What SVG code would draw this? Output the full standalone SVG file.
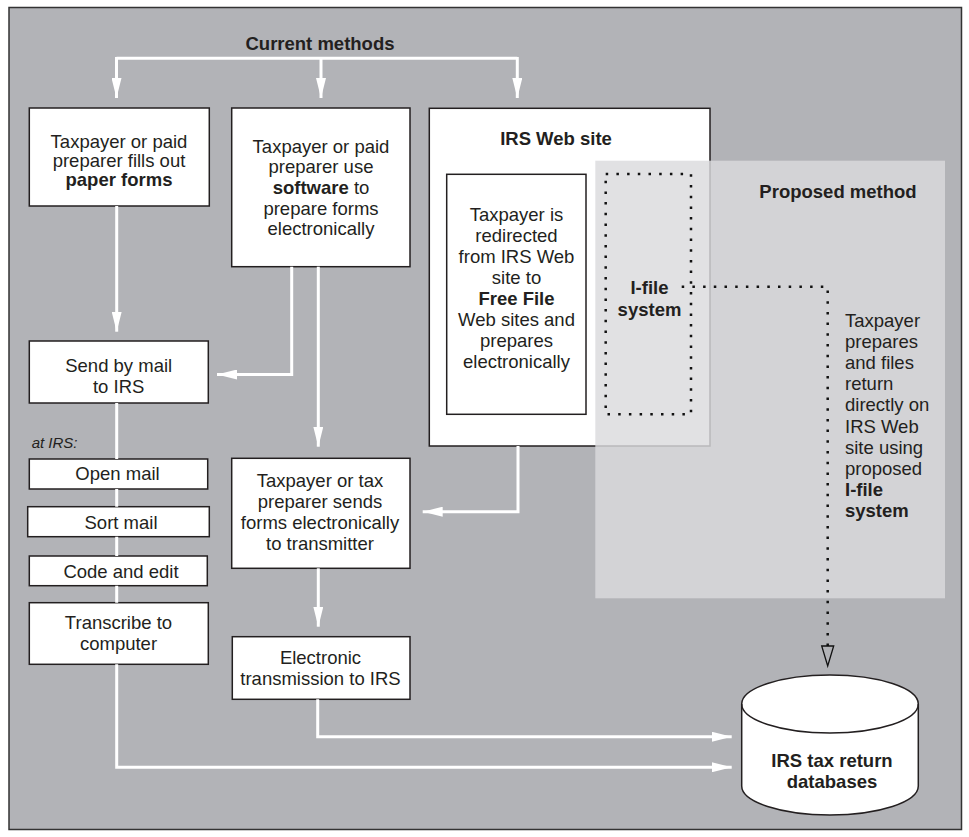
<svg xmlns="http://www.w3.org/2000/svg" width="969" height="837" viewBox="0 0 969 837">
<style>
text{font-family:"Liberation Sans",Arial,Helvetica,sans-serif;font-size:18.5px;fill:#231f20;text-anchor:middle}
.b{font-weight:bold}
.box{fill:#fff;stroke:#231f20;stroke-width:1.5}
.wl{fill:none;stroke:#fff;stroke-width:3}
.dot{fill:none;stroke:#111;stroke-width:2.5;stroke-dasharray:2.5 8.2}
</style>
<defs>
<marker id="ah" markerUnits="userSpaceOnUse" markerWidth="20" markerHeight="10" refX="20" refY="5" orient="auto" viewBox="0 0 20 10">
<path d="M0,0 L20,5 L0,10 z" fill="#fff"/>
</marker>
</defs>
<rect id="frame" x="9" y="7.5" width="952.5" height="822" fill="#b2b3b7" stroke="#333" stroke-width="1.5"/>
<text class="b" x="320" y="50">Current methods</text>

<g id="paper">
<rect class="box" x="29.3" y="108" width="180" height="98"/>
<text x="119" y="147.5">Taxpayer or paid</text>
<text x="119" y="166.5">preparer fills out</text>
<text class="b" x="119" y="185.5">paper forms</text>
</g>
<g id="software">
<rect class="box" x="231.7" y="108" width="178.3" height="158.7"/>
<text x="321" y="152.5">Taxpayer or paid</text>
<text x="321" y="173.2">preparer use</text>
<text x="321" y="193.9"><tspan class="b">software</tspan> to</text>
<text x="321" y="214.6">prepare forms</text>
<text x="321" y="235.3">electronically</text>
</g>
<g id="irsweb">
<rect class="box" x="429.3" y="108.3" width="280.7" height="337.7"/>
<text class="b" x="556" y="145">IRS Web site</text>
</g>
<g id="freefile">
<rect class="box" x="446.7" y="174.3" width="139.3" height="240"/>
<text x="516.5" y="220.7">Taxpayer is</text>
<text x="516.5" y="241.8">redirected</text>
<text x="516.5" y="262.9">from IRS Web</text>
<text x="516.5" y="284">site to</text>
<text class="b" x="516.5" y="305.1">Free File</text>
<text x="516.5" y="326.2">Web sites and</text>
<text x="516.5" y="347.3">prepares</text>
<text x="516.5" y="368.4">electronically</text>
</g>
<g id="sendmail">
<rect class="box" x="29.3" y="341" width="179" height="62"/>
<text x="118.7" y="371.7">Send by mail</text>
<text x="118.7" y="392.7">to IRS</text>
</g>
<text x="31.7" y="448.3" style="font-style:italic;font-size:15px;text-anchor:start">at IRS:</text>
<g id="openmail">
<rect class="box" x="29.3" y="459" width="178.4" height="30"/>
<text x="117.5" y="480">Open mail</text>
</g>
<g id="sortmail">
<rect class="box" x="27.7" y="506.7" width="181.6" height="30"/>
<text x="121" y="529">Sort mail</text>
</g>
<g id="codeedit">
<rect class="box" x="29.3" y="556" width="178" height="29.7"/>
<text x="121" y="577.5">Code and edit</text>
</g>
<g id="transcribe">
<rect class="box" x="29.3" y="602.7" width="179" height="61.6"/>
<text x="118.5" y="629">Transcribe to</text>
<text x="118.5" y="650">computer</text>
</g>
<g id="transmitter">
<rect class="box" x="231.7" y="458.3" width="178.3" height="110"/>
<text x="320" y="486.7">Taxpayer or tax</text>
<text x="320" y="507.8">preparer sends</text>
<text x="320" y="528.9">forms electronically</text>
<text x="320" y="550">to transmitter</text>
</g>
<g id="electronic">
<rect class="box" x="232.3" y="636.7" width="177.7" height="62.6"/>
<text x="320.5" y="664.3">Electronic</text>
<text x="320.5" y="685">transmission to IRS</text>
</g>

<g id="proposed">
<rect x="595.3" y="160.7" width="349.7" height="437.6" fill="#dadbdd" fill-opacity="0.82"/>
<text class="b" x="838" y="198.3">Proposed method</text>
<g style="text-anchor:start">
<text x="845" y="326.5" style="text-anchor:start">Taxpayer</text>
<text x="845" y="347.7" style="text-anchor:start">prepares</text>
<text x="845" y="368.9" style="text-anchor:start">and files</text>
<text x="845" y="390.1" style="text-anchor:start">return</text>
<text x="845" y="411.3" style="text-anchor:start">directly on</text>
<text x="845" y="432.5" style="text-anchor:start">IRS Web</text>
<text x="845" y="453.7" style="text-anchor:start">site using</text>
<text x="845" y="474.9" style="text-anchor:start">proposed</text>
<text class="b" x="845" y="496.1" style="text-anchor:start">I-file</text>
<text class="b" x="845" y="517.3" style="text-anchor:start">system</text>
</g>
</g>
<g id="ifile">
<rect class="dot" x="605.7" y="174" width="85.3" height="240.3"/>
<text class="b" x="649.5" y="294">I-file</text>
<text class="b" x="649.5" y="315.5">system</text>
</g>
<g id="database">
<path d="M741.7,704 L741.7,786 A88.3,29 0 0,0 918.3,786 L918.3,704 A88.3,29 0 0,0 741.7,704 Z" fill="#fff" stroke="#231f20" stroke-width="1.5"/>
<path d="M741.7,704 A88.3,29 0 0,0 918.3,704" fill="none" stroke="#231f20" stroke-width="1.5"/>
<text class="b" x="832" y="766.7">IRS tax return</text>
<text class="b" x="832" y="787.7">databases</text>
</g>

<g id="connectors">
<path class="wl" d="M116.5,58.3 H517.3"/>
<path class="wl" d="M116.5,57 V98" marker-end="url(#ah)"/>
<path class="wl" d="M321,58.3 V98" marker-end="url(#ah)"/>
<path class="wl" d="M517.3,57 V98" marker-end="url(#ah)"/>
<path class="wl" d="M116.7,206 V331.7" marker-end="url(#ah)"/>
<path class="wl" d="M291.7,266.7 V374.5 H217" marker-end="url(#ah)"/>
<path class="wl" d="M318.3,266.7 V446.7" marker-end="url(#ah)"/>
<path class="wl" d="M518,446 V511.7 H422.7" marker-end="url(#ah)"/>
<path class="wl" d="M318.3,568.3 V626.7" marker-end="url(#ah)"/>
<path class="wl" d="M317.7,699.3 V736.7 H731.7" marker-end="url(#ah)"/>
<path class="wl" d="M116.7,403 V459 M116.7,489 V506.7 M116.7,536.7 V556 M116.7,585.7 V602.7"/>
<path class="wl" d="M116.7,664.3 V767.3 H731.7" marker-end="url(#ah)"/>
<path class="dot" d="M681.7,286.7 H827.7 V646"/>
<polygon points="821.7,646 833.7,646 827.7,666" fill="#b2b3b7" stroke="#111" stroke-width="1.3"/>
</g>
</svg>
